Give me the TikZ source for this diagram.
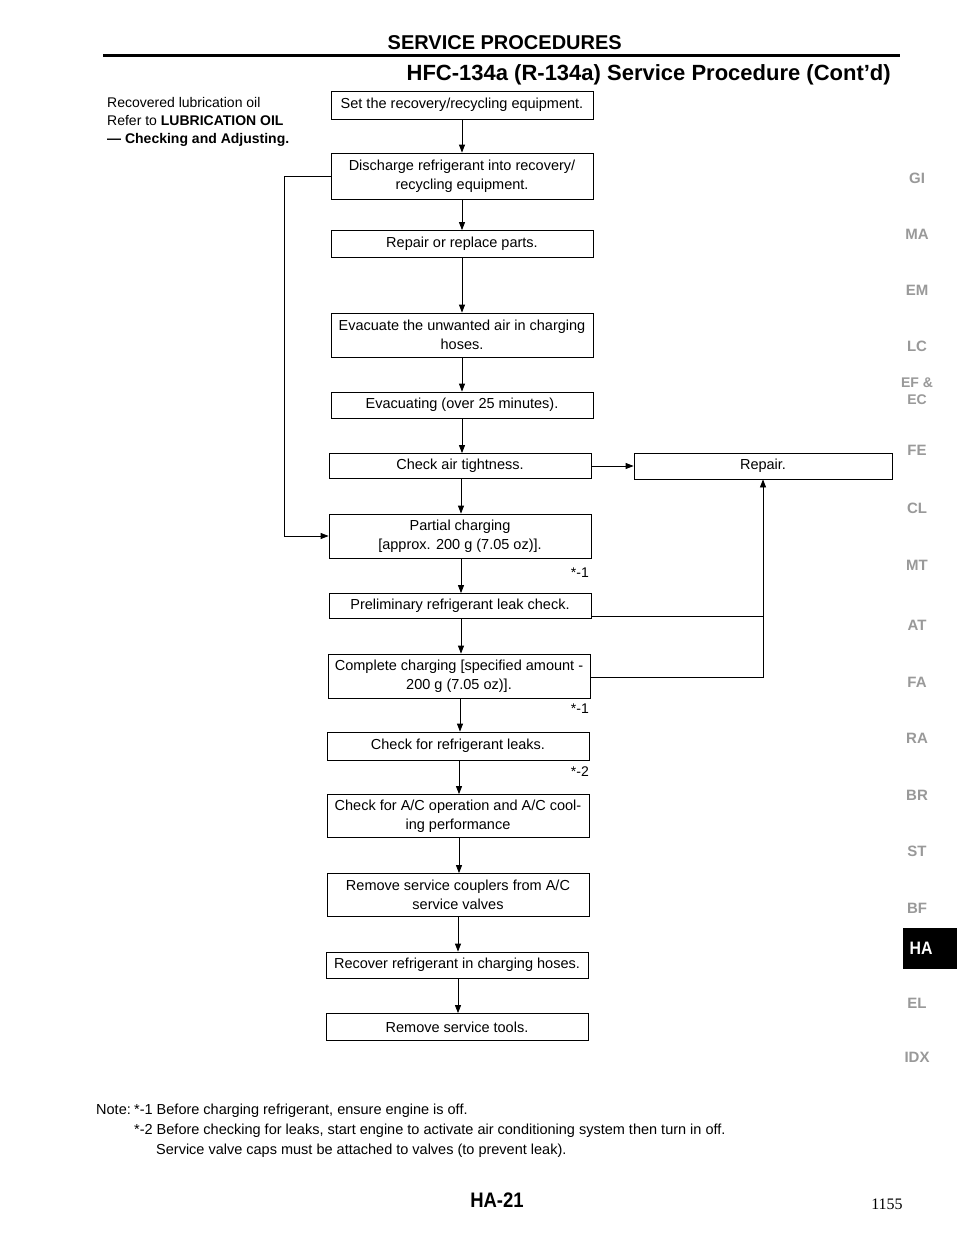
\documentclass[tikz,border=0pt]{standalone}
\usepackage{fontspec}
\setmainfont{Liberation Sans}
\newfontfamily\condfont[FakeStretch=0.88]{Liberation Sans}
\newfontfamily\numfont{Liberation Serif}
\usetikzlibrary{arrows.meta}
\begin{document}
\begin{tikzpicture}[x=1pt,y=-1pt,
  box/.style={draw, line width=0.8pt, minimum width=262pt, inner xsep=1pt, inner ysep=2pt,
    font=\fontsize{14.5}{19}\selectfont, align=center, anchor=center},
  flow/.style={line width=0.8pt, -{Triangle[length=8pt,width=6pt]}},
  conn/.style={line width=0.8pt},
  lbl/.style={font=\fontsize{14}{15}\selectfont, inner sep=0pt, anchor=east},
  note/.style={font=\fontsize{14.5}{16}\selectfont, inner sep=0pt, anchor=base west},
  side/.style={font=\fontsize{14}{18}\selectfont, inner sep=0pt, anchor=base west},
  tab/.style={text=black!40, font=\fontsize{15}{16}\selectfont\bfseries, inner sep=0pt, align=center}]
\useasboundingbox (0,0) rectangle (960,1242);
\fill[white] (0,0) rectangle (960,1242);

% header
\node[inner sep=0pt, anchor=base east, font=\fontsize{20}{22}\selectfont\bfseries] (title) at (622,49) {SERVICE PROCEDURES};
\coordinate (ruleL) at (103,55);
\coordinate (ruleR) at (900,55);
\draw[line width=3pt] (ruleL) -- (ruleR);
\node[inner sep=0pt, anchor=base east, font=\fontsize{22}{24}\selectfont\bfseries] (subtitle) at (891,80) {HFC-134a (R-134a) Service Procedure (Cont'd)};

% left remark
\node[side] (s1) at (107,107) {Recovered lubrication oil};
\node[side] (s2) at (107,125) {Refer to \textbf{LUBRICATION OIL}};
\node[side] (s3) at (107,143) {\textbf{--- Checking and Adjusting.}};

% boxes
\node[box, minimum height=28pt] (b1) at (462,105) {Set the recovery/recycling equipment.};
\node[box, minimum height=46pt] (b2) at (462,176) {Discharge refrigerant into recovery/\\recycling equipment.};
\node[box, minimum height=27pt] (b3) at (462,244) {Repair or replace parts.};
\node[box, minimum height=44pt] (b4) at (462,335) {Evacuate the unwanted air in charging\\hoses.};
\node[box, minimum height=26pt] (b5) at (462,405) {Evacuating (over 25 minutes).};
\node[box, minimum height=25pt] (b6) at (460,466) {Check air tightness.};
\node[box, minimum width=258pt, minimum height=26pt] (rep) at (763,466) {Repair.};
\node[box, minimum height=44pt] (b7) at (460,536) {Partial charging\\{[}approx. 200 g (7.05 oz){]}.};
\node[box, minimum height=25pt] (b8) at (460,606) {Preliminary refrigerant leak check.};
\node[box, minimum height=44pt] (b9) at (459,676) {Complete charging {[}specified amount -\\200 g (7.05 oz){]}.};
\node[box, minimum height=28pt] (b10) at (458,746) {Check for refrigerant leaks.};
\node[box, minimum height=43pt] (b11) at (458,816) {Check for A/C operation and A/C cool-\\ing performance};
\node[box, minimum height=43pt] (b12) at (458,895) {Remove service couplers from A/C\\service valves};
\node[box, minimum height=26pt] (b13) at (457,965) {Recover refrigerant in charging hoses.};
\node[box, minimum height=27pt] (b14) at (457,1027) {Remove service tools.};

% main flow
\draw[flow] (b1.south -| 462,0) -- (b2.north -| 462,0);
\draw[flow] (b2.south -| 462,0) -- (b3.north -| 462,0);
\draw[flow] (b3.south -| 462,0) -- (b4.north -| 462,0);
\draw[flow] (b4.south -| 462,0) -- (b5.north -| 462,0);
\draw[flow] (b5.south -| 462,0) -- (b6.north -| 462,0);
\draw[flow] (b6.south -| 461,0) -- (b7.north -| 461,0);
\draw[flow] (b7.south -| 461,0) -- (b8.north -| 461,0);
\draw[flow] (b8.south -| 461,0) -- (b9.north -| 461,0);
\draw[flow] (b9.south -| 460,0) -- (b10.north -| 460,0);
\draw[flow] (b10.south -| 459,0) -- (b11.north -| 459,0);
\draw[flow] (b11.south -| 459,0) -- (b12.north -| 459,0);
\draw[flow] (b12.south -| 458,0) -- (b13.north -| 458,0);
\draw[flow] (b13.south -| 458,0) -- (b14.north -| 458,0);

% side loops
\coordinate (lft) at (284,176);
\draw[flow] (b2.west) -- (lft) |- (b7.west);
\draw[flow] (b6.east) -- (rep.west);
\coordinate (j1) at (763,616);
\coordinate (j2) at (763,677);
\draw[conn] (b8.east |- j1) -- (j1);
\draw[flow] (b9.east |- j2) -- (j2) -- (rep.south);

% step labels
\node[lbl] (n1) at (589,573) {*-1};
\node[lbl] (n2) at (589,709) {*-1};
\node[lbl] (n3) at (589,772) {*-2};

% notes
\node[note] (nt0) at (96,1114) {Note:};
\node[note] (nt1) at (134,1114) {*-1 Before charging refrigerant, ensure engine is off.};
\node[note] (nt2) at (134,1134) {*-2 Before checking for leaks, start engine to activate air conditioning system then turn in off.};
\node[note] (nt3) at (156,1154) {Service valve caps must be attached to valves (to prevent leak).};

% footer
\node[inner sep=0pt, anchor=base, font=\condfont\fontsize{21}{22}\selectfont\bfseries] (pg) at (497,1207) {HA-21};
\node[inner sep=0pt, anchor=base, font=\numfont\fontsize{16}{17}\selectfont] (pn) at (887,1209) {1155};

% side tabs
\node[tab] (tGI) at (917,178) {GI};
\node[tab] (tMA) at (917,234) {MA};
\node[tab] (tEM) at (917,290) {EM};
\node[tab] (tLC) at (917,346) {LC};
\node[tab, font=\fontsize{14}{17}\selectfont\bfseries] (tEF) at (917,391) {EF \&\\EC};
\node[tab] (tFE) at (917,450) {FE};
\node[tab] (tCL) at (917,508) {CL};
\node[tab] (tMT) at (917,565) {MT};
\node[tab] (tAT) at (917,625) {AT};
\node[tab] (tFA) at (917,682) {FA};
\node[tab] (tRA) at (917,738) {RA};
\node[tab] (tBR) at (917,795) {BR};
\node[tab] (tST) at (917,851) {ST};
\node[tab] (tBF) at (917,908) {BF};
\node[fill=black, minimum width=54pt, minimum height=41pt, inner sep=0pt] (tHAbox) at (930,948) {};
\node[inner sep=0pt, text=white, font=\condfont\fontsize{18}{19}\selectfont\bfseries] (tHA) at (921,948) {HA};
\node[tab] (tEL) at (917,1003) {EL};
\node[tab] (tIDX) at (917,1057) {IDX};
\end{tikzpicture}
\end{document}
